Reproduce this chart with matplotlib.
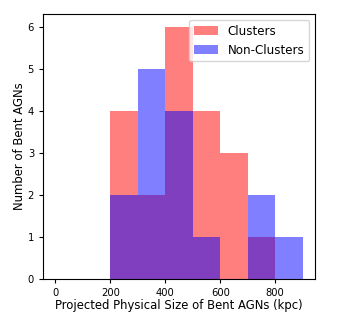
import numpy as np
import matplotlib
matplotlib.use("Agg")
import matplotlib.pyplot as plt

bin_edges = [0, 100, 200, 300, 400, 500, 600, 700, 800, 900]
clusters = [0, 0, 4, 2, 6, 4, 3, 1, 0]
non_clusters = [0, 0, 2, 5, 4, 1, 0, 2, 1]
xticks = [0, 200, 400, 600, 800]

fig = plt.figure(figsize=(3.5, 3.23), dpi=100)
ax = fig.add_axes([0.123, 0.136, 0.777, 0.821])
centers = np.array(bin_edges[:-1]) + 50
ax.hist(centers, bins=bin_edges, weights=clusters, color='red', alpha=0.5, label='Clusters')
ax.hist(centers, bins=bin_edges, weights=non_clusters, color='blue', alpha=0.5, label='Non-Clusters')
ax.set_xticks(xticks)
ax.tick_params(labelsize=7.2, length=3)
ax.set_xlabel('Projected Physical Size of Bent AGNs (kpc)', fontsize=8.4, labelpad=1)
ax.set_ylabel('Number of Bent AGNs', fontsize=8.4, labelpad=1)
ax.legend(loc='upper right', fontsize=8.6)
fig.savefig('out.png', dpi=100)
